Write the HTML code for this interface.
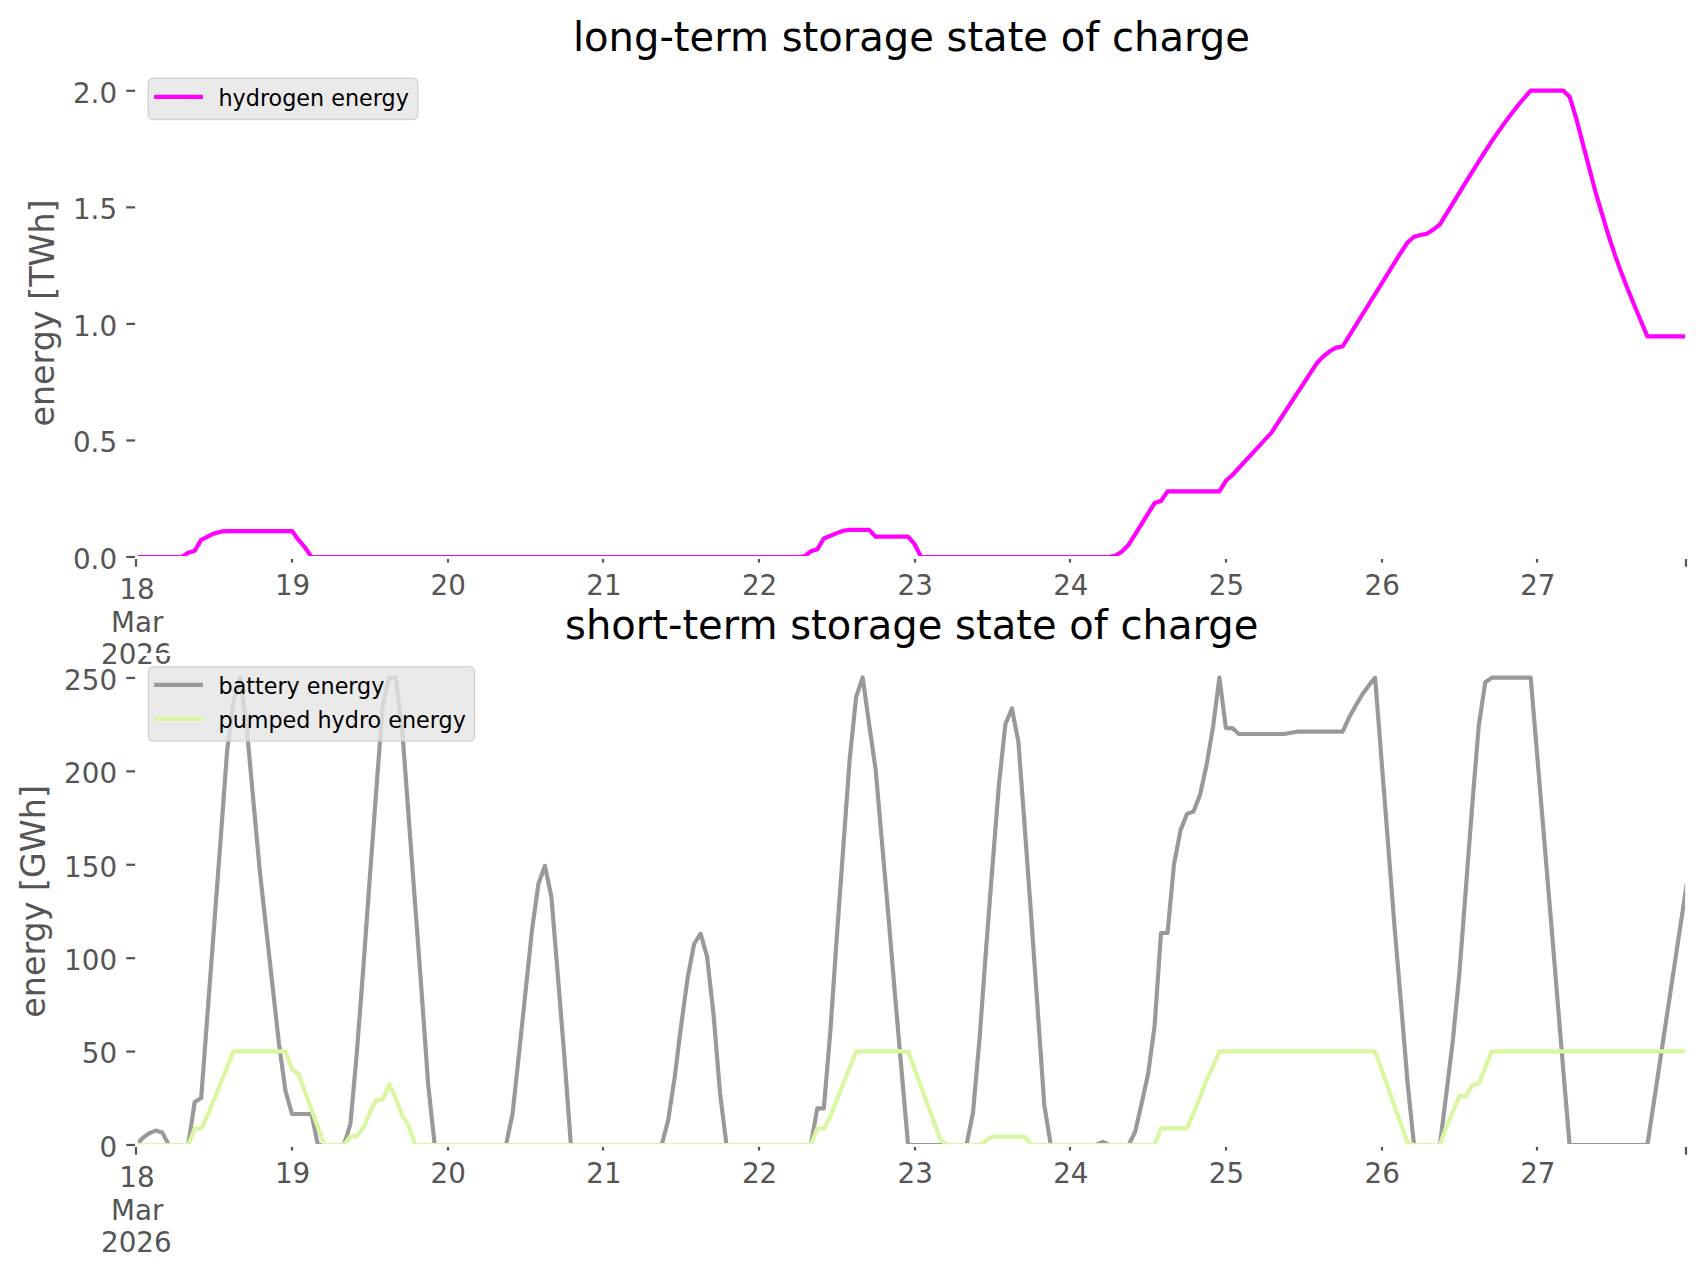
<!DOCTYPE html>
<html lang="en"><head><meta charset="utf-8"><title>storage state of charge</title>
<style>html,body{margin:0;padding:0;background:#fff}svg{display:block}</style></head>
<body>
<svg width="1706" height="1277" viewBox="0 0 1706 1277">
<rect width="1706" height="1277" fill="#ffffff"/>
<clipPath id="c1"><rect x="136.0" y="66.6" width="1550.0" height="490.4"/></clipPath>
<g clip-path="url(#c1)" fill="none" stroke-width="4.17" stroke-linejoin="round" stroke-linecap="square">
<polyline stroke="#ff00ff" points="136.3,557.0 181.7,557.0 188.2,552.8 194.7,550.8 201.2,539.9 207.7,536.7 214.2,533.4 220.7,531.7 227.1,531.1 292.0,531.1 298.5,539.9 305.0,547.5 311.5,557.0 797.9,557.0 804.3,556.3 810.8,551.3 817.3,549.3 823.8,538.5 836.8,533.1 843.3,530.8 849.7,529.9 869.2,529.9 875.7,536.7 908.1,536.7 914.6,544.2 921.1,557.0 1109.2,557.0 1115.6,555.5 1122.1,551.4 1128.6,544.8 1154.6,503.1 1161.0,501.0 1167.5,491.3 1219.4,491.3 1225.9,480.8 1232.4,475.0 1271.3,432.8 1316.7,363.3 1323.2,356.5 1329.7,351.3 1336.1,347.6 1342.6,346.5 1401.0,252.3 1407.5,242.5 1414.0,236.8 1420.5,235.0 1426.9,233.8 1433.4,229.6 1439.9,224.3 1465.9,182.2 1478.8,161.4 1485.3,151.1 1491.8,141.1 1498.3,131.7 1504.8,122.6 1511.3,113.9 1517.7,105.7 1524.2,98.0 1530.7,90.6 1563.1,90.6 1569.6,96.7 1576.1,118.0 1589.1,167.6 1595.6,192.3 1602.1,214.1 1608.5,235.5 1615.0,255.1 1621.5,273.1 1628.0,289.8 1634.5,305.7 1641.0,321.2 1647.4,336.4 1686.4,336.4"/>
</g>
<g stroke="#555555" stroke-width="2.22">
<line x1="136" y1="557.0" x2="136" y2="566.72"/>
<line x1="292" y1="557.0" x2="292" y2="562.56"/>
<line x1="448" y1="557.0" x2="448" y2="562.56"/>
<line x1="603" y1="557.0" x2="603" y2="562.56"/>
<line x1="759" y1="557.0" x2="759" y2="562.56"/>
<line x1="915" y1="557.0" x2="915" y2="562.56"/>
<line x1="1070" y1="557.0" x2="1070" y2="562.56"/>
<line x1="1226" y1="557.0" x2="1226" y2="562.56"/>
<line x1="1382" y1="557.0" x2="1382" y2="562.56"/>
<line x1="1537" y1="557.0" x2="1537" y2="562.56"/>
<line x1="1686.0" y1="557.0" x2="1686.0" y2="566.72"/>
<line x1="126.28" y1="557.00" x2="136.0" y2="557.00"/>
<line x1="126.28" y1="440.45" x2="136.0" y2="440.45"/>
<line x1="126.28" y1="323.90" x2="136.0" y2="323.90"/>
<line x1="126.28" y1="207.35" x2="136.0" y2="207.35"/>
<line x1="126.28" y1="90.80" x2="136.0" y2="90.80"/>
</g>
<g stroke="#ffffff" stroke-width="2.78" stroke-linecap="square">
<line x1="136.5" y1="66.5" x2="136.5" y2="557.5"/>
<line x1="1686.5" y1="66.5" x2="1686.5" y2="557.5"/>
<line x1="136.5" y1="557.5" x2="1686.5" y2="557.5"/>
<line x1="136.5" y1="66.5" x2="1686.5" y2="66.5"/>
</g>
<g font-family="'DejaVu Sans','Liberation Sans',sans-serif" font-size="27.78" fill="#555555">
<text x="136.35" y="599.4" text-anchor="middle" dx="0.6">18</text>
<text x="136.35" y="632.2" text-anchor="middle" dx="0.9">Mar</text>
<text x="136.35" y="664.4" text-anchor="middle" dx="0">2026</text>
<text x="292.00" y="594.7" text-anchor="middle" dx="0.6">19</text>
<text x="447.65" y="594.7" text-anchor="middle" dx="0.6">20</text>
<text x="603.30" y="594.7" text-anchor="middle" dx="0.6">21</text>
<text x="758.95" y="594.7" text-anchor="middle" dx="0.6">22</text>
<text x="914.60" y="594.7" text-anchor="middle" dx="0.6">23</text>
<text x="1070.25" y="594.7" text-anchor="middle" dx="0.6">24</text>
<text x="1225.90" y="594.7" text-anchor="middle" dx="0.6">25</text>
<text x="1381.55" y="594.7" text-anchor="middle" dx="0.6">26</text>
<text x="1537.20" y="594.7" text-anchor="middle" dx="0.6">27</text>
<text x="117.1" y="568.8" text-anchor="end">0.0</text>
<text x="117.1" y="452.2" text-anchor="end">0.5</text>
<text x="117.1" y="335.6" text-anchor="end">1.0</text>
<text x="117.1" y="219.1" text-anchor="end">1.5</text>
<text x="117.1" y="102.6" text-anchor="end">2.0</text>
</g>
<text font-family="'DejaVu Sans','Liberation Sans',sans-serif" font-size="33.33" fill="#555555" text-anchor="middle" transform="translate(53.9,313.0) rotate(-90)">energy [TWh]</text>
<text font-family="'DejaVu Sans','Liberation Sans',sans-serif" font-size="40.05" fill="#000" text-anchor="middle" x="911.4" y="50.8">long-term storage state of charge</text>
<rect x="148.3" y="78.2" width="269.5" height="41.3" rx="4.6" ry="4.6" fill="#e5e5e5" fill-opacity="0.8" stroke="#cccccc" stroke-opacity="0.8" stroke-width="1.39"/>
<line x1="154.1" y1="96.8" x2="203" y2="96.8" stroke="#ff00ff" stroke-width="4.17"/>
<text font-family="'DejaVu Sans','Liberation Sans',sans-serif" font-size="22.27" fill="#000" x="218.5" y="105.8">hydrogen energy</text>
<clipPath id="c2"><rect x="136.0" y="654.3" width="1550.0" height="490.70000000000005"/></clipPath>
<g clip-path="url(#c2)" fill="none" stroke-width="4.17" stroke-linejoin="round" stroke-linecap="square">
<polyline stroke="#999999" points="136.3,1145.0 142.8,1138.0 149.3,1133.2 155.8,1130.6 162.3,1132.6 168.8,1145.0 188.2,1145.0 194.7,1102.0 201.2,1098.0 220.7,838.5 227.1,751.0 233.6,701.3 240.1,677.5 246.6,726.5 253.1,798.0 259.6,869.0 266.1,928.0 279.0,1044.0 285.5,1091.0 292.0,1114.0 311.5,1114.0 317.9,1145.0 343.9,1145.0 350.4,1124.0 356.9,1052.0 363.3,968.0 369.8,878.0 376.3,790.0 382.8,704.0 389.3,677.7 395.8,677.7 402.3,731.0 415.2,905.0 421.7,993.0 428.2,1085.0 434.7,1145.0 506.0,1145.0 512.5,1114.0 519.0,1054.0 532.0,930.0 538.4,884.0 544.9,865.8 551.4,897.0 557.9,976.0 564.4,1057.0 570.9,1145.0 661.7,1145.0 668.2,1120.0 674.6,1078.0 681.1,1026.0 687.6,978.0 694.1,944.0 700.6,933.7 707.1,956.8 713.6,1015.0 720.0,1092.7 726.5,1145.0 810.8,1145.0 817.3,1108.4 823.8,1108.4 830.3,1032.0 836.8,937.0 843.3,847.0 849.7,759.0 856.2,696.6 862.7,677.5 869.2,724.8 875.7,770.0 888.7,919.4 895.1,996.0 901.6,1071.0 908.1,1145.0 966.5,1145.0 973.0,1112.5 979.5,1039.5 985.9,951.5 992.4,867.0 998.9,785.0 1005.4,724.3 1011.9,708.5 1018.4,741.8 1024.8,828.0 1031.3,918.0 1037.8,1011.0 1044.3,1105.0 1050.8,1145.0 1096.2,1145.0 1102.7,1142.0 1109.2,1145.0 1128.6,1145.0 1135.1,1132.0 1141.6,1103.6 1148.1,1074.0 1154.6,1026.0 1161.0,933.0 1167.5,933.0 1174.0,864.4 1180.5,830.3 1187.0,813.9 1193.5,811.5 1200.0,795.0 1206.4,765.7 1212.9,728.0 1219.4,677.6 1225.9,728.1 1232.4,728.1 1238.9,734.0 1284.3,734.0 1290.8,732.8 1297.2,731.7 1342.6,731.7 1349.1,717.6 1355.6,705.8 1362.1,694.8 1368.6,685.8 1375.1,677.6 1394.5,926.3 1401.0,1003.0 1407.5,1082.0 1414.0,1145.0 1439.9,1145.0 1446.4,1093.0 1452.9,1040.0 1459.4,973.0 1465.9,888.0 1472.3,804.5 1478.8,725.3 1485.3,682.3 1491.8,677.6 1530.7,677.6 1550.2,911.3 1556.7,990.0 1563.1,1068.0 1569.6,1145.0 1647.4,1145.0 1686.4,886.0"/>
<polyline stroke="#d9f7a0" points="136.3,1145.0 188.2,1145.0 194.7,1128.7 201.2,1128.7 207.7,1115.0 214.2,1099.2 227.1,1067.2 233.6,1051.3 285.5,1051.3 292.0,1069.2 298.5,1074.0 324.4,1145.0 343.9,1145.0 350.4,1136.3 356.9,1136.3 363.3,1127.8 369.8,1112.8 376.3,1099.8 382.8,1099.6 389.3,1084.0 395.8,1098.5 402.3,1115.7 408.7,1125.8 415.2,1145.0 810.8,1145.0 817.3,1128.5 823.8,1128.5 830.3,1116.3 856.2,1051.3 908.1,1051.3 940.5,1139.7 947.0,1145.0 979.5,1145.0 985.9,1140.7 992.4,1136.6 1024.8,1136.6 1031.3,1145.0 1154.6,1145.0 1161.0,1128.4 1187.0,1128.4 1193.5,1113.0 1200.0,1097.5 1206.4,1080.2 1212.9,1067.0 1219.4,1051.3 1375.1,1051.3 1407.5,1142.5 1414.0,1145.0 1439.9,1145.0 1446.4,1127.0 1452.9,1111.5 1459.4,1096.2 1465.9,1096.2 1472.3,1085.6 1478.8,1083.6 1485.3,1067.8 1491.8,1051.3 1686.4,1051.3"/>
</g>
<g stroke="#555555" stroke-width="2.22">
<line x1="136" y1="1145.0" x2="136" y2="1154.72"/>
<line x1="292" y1="1145.0" x2="292" y2="1150.56"/>
<line x1="448" y1="1145.0" x2="448" y2="1150.56"/>
<line x1="603" y1="1145.0" x2="603" y2="1150.56"/>
<line x1="759" y1="1145.0" x2="759" y2="1150.56"/>
<line x1="915" y1="1145.0" x2="915" y2="1150.56"/>
<line x1="1070" y1="1145.0" x2="1070" y2="1150.56"/>
<line x1="1226" y1="1145.0" x2="1226" y2="1150.56"/>
<line x1="1382" y1="1145.0" x2="1382" y2="1150.56"/>
<line x1="1537" y1="1145.0" x2="1537" y2="1150.56"/>
<line x1="1686.0" y1="1145.0" x2="1686.0" y2="1154.72"/>
<line x1="126.28" y1="1145.00" x2="136.0" y2="1145.00"/>
<line x1="126.28" y1="1051.59" x2="136.0" y2="1051.59"/>
<line x1="126.28" y1="958.18" x2="136.0" y2="958.18"/>
<line x1="126.28" y1="864.77" x2="136.0" y2="864.77"/>
<line x1="126.28" y1="771.36" x2="136.0" y2="771.36"/>
<line x1="126.28" y1="677.95" x2="136.0" y2="677.95"/>
</g>
<g stroke="#ffffff" stroke-width="2.78" stroke-linecap="square">
<line x1="136.5" y1="654.5" x2="136.5" y2="1145.5"/>
<line x1="1686.5" y1="654.5" x2="1686.5" y2="1145.5"/>
<line x1="136.5" y1="1145.5" x2="1686.5" y2="1145.5"/>
<line x1="136.5" y1="654.5" x2="1686.5" y2="654.5"/>
</g>
<g font-family="'DejaVu Sans','Liberation Sans',sans-serif" font-size="27.78" fill="#555555">
<text x="136.35" y="1187.4" text-anchor="middle" dx="0.6">18</text>
<text x="136.35" y="1220.2" text-anchor="middle" dx="0.9">Mar</text>
<text x="136.35" y="1252.4" text-anchor="middle" dx="0">2026</text>
<text x="292.00" y="1182.7" text-anchor="middle" dx="0.6">19</text>
<text x="447.65" y="1182.7" text-anchor="middle" dx="0.6">20</text>
<text x="603.30" y="1182.7" text-anchor="middle" dx="0.6">21</text>
<text x="758.95" y="1182.7" text-anchor="middle" dx="0.6">22</text>
<text x="914.60" y="1182.7" text-anchor="middle" dx="0.6">23</text>
<text x="1070.25" y="1182.7" text-anchor="middle" dx="0.6">24</text>
<text x="1225.90" y="1182.7" text-anchor="middle" dx="0.6">25</text>
<text x="1381.55" y="1182.7" text-anchor="middle" dx="0.6">26</text>
<text x="1537.20" y="1182.7" text-anchor="middle" dx="0.6">27</text>
<text x="117.1" y="1156.8" text-anchor="end">0</text>
<text x="117.1" y="1063.3" text-anchor="end">50</text>
<text x="117.1" y="969.9" text-anchor="end">100</text>
<text x="117.1" y="876.5" text-anchor="end">150</text>
<text x="117.1" y="783.1" text-anchor="end">200</text>
<text x="117.1" y="689.7" text-anchor="end">250</text>
</g>
<text font-family="'DejaVu Sans','Liberation Sans',sans-serif" font-size="33.33" fill="#555555" text-anchor="middle" transform="translate(44.5,901.4) rotate(-90)">energy [GWh]</text>
<text font-family="'DejaVu Sans','Liberation Sans',sans-serif" font-size="40.05" fill="#000" text-anchor="middle" x="911.7" y="638.5">short-term storage state of charge</text>
<rect x="148.4" y="666.6" width="326.1" height="74.5" rx="4.6" ry="4.6" fill="#e5e5e5" fill-opacity="0.8" stroke="#cccccc" stroke-opacity="0.8" stroke-width="1.39"/>
<line x1="154.1" y1="684.9" x2="203" y2="684.9" stroke="#999999" stroke-width="4.17"/>
<text font-family="'DejaVu Sans','Liberation Sans',sans-serif" font-size="22.27" fill="#000" x="218.5" y="694.2">battery energy</text>
<line x1="154.1" y1="718.9" x2="203" y2="718.9" stroke="#d9f7a0" stroke-width="4.17"/>
<text font-family="'DejaVu Sans','Liberation Sans',sans-serif" font-size="22.27" fill="#000" x="218.5" y="728.3">pumped hydro energy</text>
</svg>
</body></html>
